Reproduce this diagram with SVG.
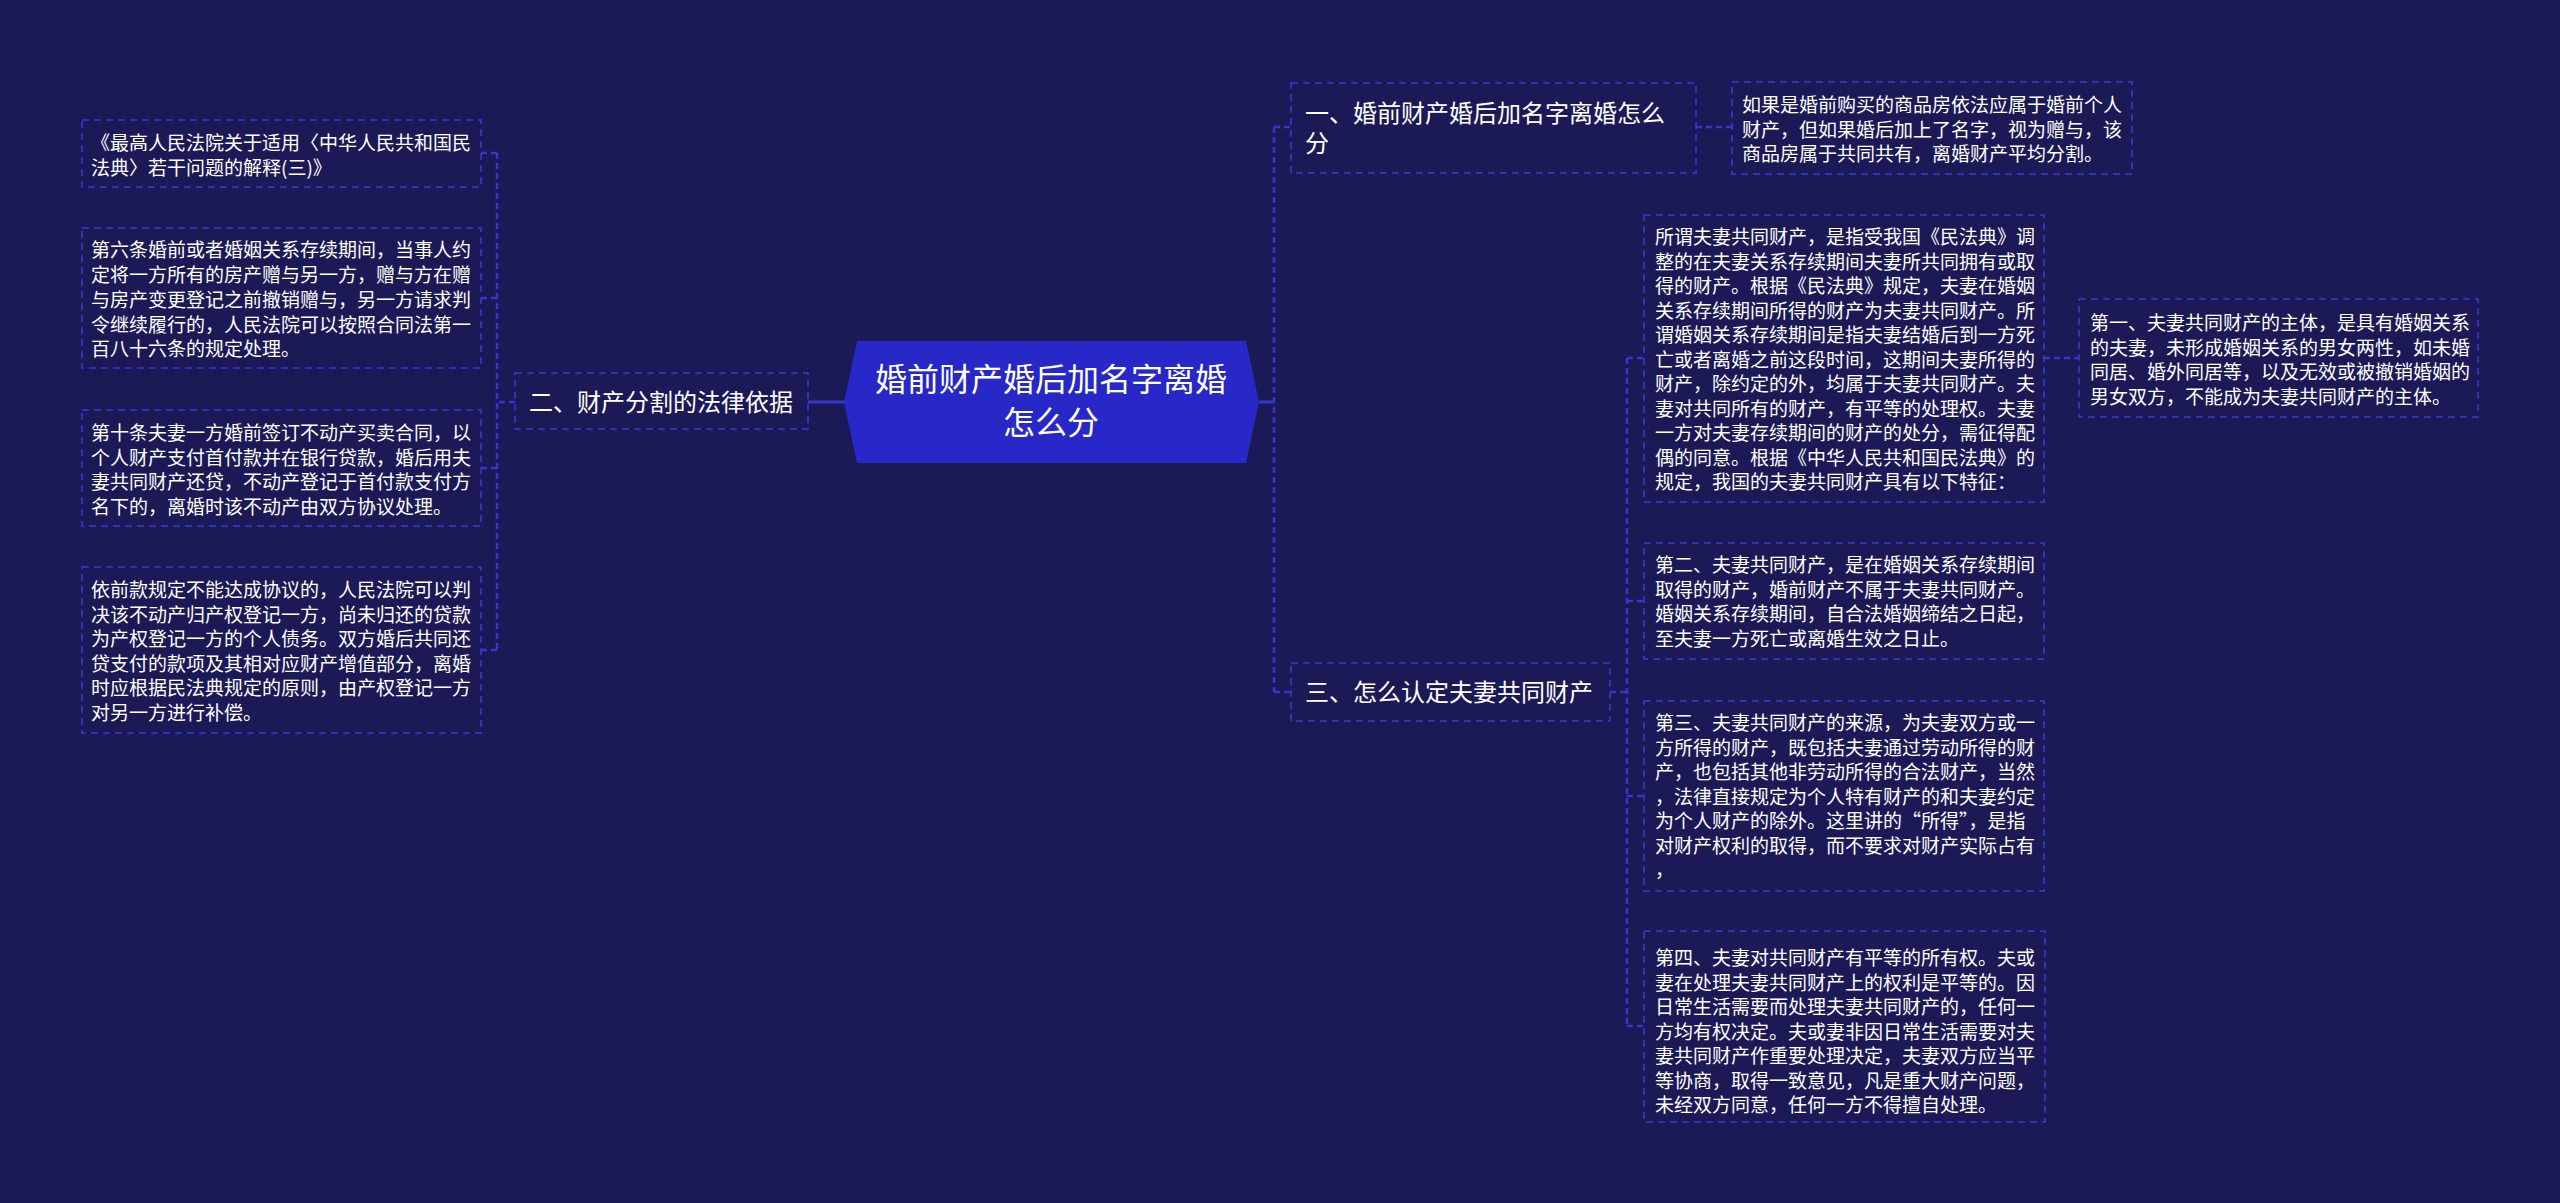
<svg xmlns="http://www.w3.org/2000/svg" width="2560" height="1203" viewBox="0 0 2560 1203">
<style>
.bg{fill:#1b1a56}
.box{fill:none;stroke:#3838d2;stroke-width:1.6;stroke-dasharray:7 5}
.con{fill:none;stroke:#3636cc;stroke-width:2.5;stroke-dasharray:6 4}
.solid{fill:none;stroke:#3636cc;stroke-width:3}
.t{font-family:"Noto Sans CJK SC","Noto Sans",sans-serif;fill:#ffffff}
.s19{font-size:19px}
.s24{font-size:24px}
.s32{font-size:32px}
.root{fill:#2828c8}
</style>
<rect class="bg" x="0" y="0" width="2560" height="1203"/>

<g id="connectors">
  <line class="solid" x1="808" y1="402" x2="846" y2="402"/>
  <path class="con" d="M515 402 H497 M497 153 V650 M497 153 H481 M497 298 H481 M497 468 H481 M497 650 H481"/>
  <line class="solid" x1="1256" y1="402" x2="1274" y2="402"/>
  <path class="con" d="M1274 127 V692 M1274 127 H1291 M1274 692 H1291"/>
  <line class="con" x1="1696" y1="127" x2="1732" y2="127"/>
  <path class="con" d="M1610 692 H1627 M1627 358 V1026 M1627 358 H1644 M1627 601 H1644 M1627 796 H1644 M1627 1026 H1644"/>
  <line class="con" x1="2044" y1="358" x2="2079" y2="358"/>
</g>

<g id="root">
  <polygon class="root" points="857,341 1246,341 1259,402 1246,463 857,463 844,402"/>
  <text class="t s32" x="1051" y="391" text-anchor="middle">婚前财产婚后加名字离婚</text>
  <text class="t s32" x="1051" y="434" text-anchor="middle">怎么分</text>
</g>

<g id="n2">
  <rect class="box" x="515" y="373" width="293" height="56"/>
  <text class="t s24" x="529" y="411">二、财产分割的法律依据</text>
</g>

<g id="l1">
  <rect class="box" x="82" y="120" width="399" height="67"/>
  <text class="t s19" x="91" y="150">《最高人民法院关于适用〈中华人民共和国民</text>
  <text class="t s19" x="91" y="174.5">法典〉若干问题的解释(三)》</text>
</g>

<g id="l2">
  <rect class="box" x="82" y="228" width="399" height="140"/>
  <text class="t s19" x="91" y="257">第六条婚前或者婚姻关系存续期间，当事人约</text>
  <text class="t s19" x="91" y="282">定将一方所有的房产赠与另一方，赠与方在赠</text>
  <text class="t s19" x="91" y="307">与房产变更登记之前撤销赠与，另一方请求判</text>
  <text class="t s19" x="91" y="332">令继续履行的，人民法院可以按照合同法第一</text>
  <text class="t s19" x="91" y="356">百八十六条的规定处理。</text>
</g>

<g id="l3">
  <rect class="box" x="82" y="410" width="399" height="116"/>
  <text class="t s19" x="91" y="440">第十条夫妻一方婚前签订不动产买卖合同，以</text>
  <text class="t s19" x="91" y="464.5">个人财产支付首付款并在银行贷款，婚后用夫</text>
  <text class="t s19" x="91" y="489">妻共同财产还贷，不动产登记于首付款支付方</text>
  <text class="t s19" x="91" y="513.5">名下的，离婚时该不动产由双方协议处理。</text>
</g>

<g id="l4">
  <rect class="box" x="82" y="567" width="399" height="166"/>
  <text class="t s19" x="91" y="597">依前款规定不能达成协议的，人民法院可以判</text>
  <text class="t s19" x="91" y="621.5">决该不动产归产权登记一方，尚未归还的贷款</text>
  <text class="t s19" x="91" y="646">为产权登记一方的个人债务。双方婚后共同还</text>
  <text class="t s19" x="91" y="670.5">贷支付的款项及其相对应财产增值部分，离婚</text>
  <text class="t s19" x="91" y="695">时应根据民法典规定的原则，由产权登记一方</text>
  <text class="t s19" x="91" y="719.5">对另一方进行补偿。</text>
</g>

<g id="n1">
  <rect class="box" x="1291" y="83" width="405" height="90"/>
  <text class="t s24" x="1305" y="122">一、婚前财产婚后加名字离婚怎么</text>
  <text class="t s24" x="1305" y="152">分</text>
</g>

<g id="n1a">
  <rect class="box" x="1732" y="82" width="400" height="92"/>
  <text class="t s19" x="1742" y="112">如果是婚前购买的商品房依法应属于婚前个人</text>
  <text class="t s19" x="1742" y="136.5">财产，但如果婚后加上了名字，视为赠与，该</text>
  <text class="t s19" x="1742" y="161">商品房属于共同共有，离婚财产平均分割。</text>
</g>

<g id="n3">
  <rect class="box" x="1291" y="663" width="319" height="58"/>
  <text class="t s24" x="1305" y="701">三、怎么认定夫妻共同财产</text>
</g>

<g id="n3a">
  <rect class="box" x="1644" y="215" width="400" height="287"/>
  <text class="t s19" x="1655" y="244">所谓夫妻共同财产，是指受我国《民法典》调</text>
  <text class="t s19" x="1655" y="268.5">整的在夫妻关系存续期间夫妻所共同拥有或取</text>
  <text class="t s19" x="1655" y="293">得的财产。根据《民法典》规定，夫妻在婚姻</text>
  <text class="t s19" x="1655" y="317.5">关系存续期间所得的财产为夫妻共同财产。所</text>
  <text class="t s19" x="1655" y="342">谓婚姻关系存续期间是指夫妻结婚后到一方死</text>
  <text class="t s19" x="1655" y="366.5">亡或者离婚之前这段时间，这期间夫妻所得的</text>
  <text class="t s19" x="1655" y="391">财产，除约定的外，均属于夫妻共同财产。夫</text>
  <text class="t s19" x="1655" y="415.5">妻对共同所有的财产，有平等的处理权。夫妻</text>
  <text class="t s19" x="1655" y="440">一方对夫妻存续期间的财产的处分，需征得配</text>
  <text class="t s19" x="1655" y="464.5">偶的同意。根据《中华人民共和国民法典》的</text>
  <text class="t s19" x="1655" y="489">规定，我国的夫妻共同财产具有以下特征：</text>
</g>

<g id="n3a1">
  <rect class="box" x="2079" y="299" width="399" height="118"/>
  <text class="t s19" x="2090" y="330">第一、夫妻共同财产的主体，是具有婚姻关系</text>
  <text class="t s19" x="2090" y="354.5">的夫妻，未形成婚姻关系的男女两性，如未婚</text>
  <text class="t s19" x="2090" y="379">同居、婚外同居等，以及无效或被撤销婚姻的</text>
  <text class="t s19" x="2090" y="403.5">男女双方，不能成为夫妻共同财产的主体。</text>
</g>

<g id="n3b">
  <rect class="box" x="1644" y="543" width="400" height="116"/>
  <text class="t s19" x="1655" y="572">第二、夫妻共同财产，是在婚姻关系存续期间</text>
  <text class="t s19" x="1655" y="596.5">取得的财产，婚前财产不属于夫妻共同财产。</text>
  <text class="t s19" x="1655" y="621">婚姻关系存续期间，自合法婚姻缔结之日起，</text>
  <text class="t s19" x="1655" y="645.5">至夫妻一方死亡或离婚生效之日止。</text>
</g>

<g id="n3c">
  <rect class="box" x="1644" y="701" width="400" height="190"/>
  <text class="t s19" x="1655" y="730">第三、夫妻共同财产的来源，为夫妻双方或一</text>
  <text class="t s19" x="1655" y="754.5">方所得的财产，既包括夫妻通过劳动所得的财</text>
  <text class="t s19" x="1655" y="779">产，也包括其他非劳动所得的合法财产，当然</text>
  <text class="t s19" x="1655" y="803.5">，法律直接规定为个人特有财产的和夫妻约定</text>
  <text class="t s19" x="1655" y="828">为个人财产的除外。这里讲的“所得”，是指</text>
  <text class="t s19" x="1655" y="852.5">对财产权利的取得，而不要求对财产实际占有</text>
  <text class="t s19" x="1655" y="877">，</text>
</g>

<g id="n3d">
  <rect class="box" x="1644" y="931" width="401" height="191"/>
  <text class="t s19" x="1655" y="965">第四、夫妻对共同财产有平等的所有权。夫或</text>
  <text class="t s19" x="1655" y="989.5">妻在处理夫妻共同财产上的权利是平等的。因</text>
  <text class="t s19" x="1655" y="1014">日常生活需要而处理夫妻共同财产的，任何一</text>
  <text class="t s19" x="1655" y="1038.5">方均有权决定。夫或妻非因日常生活需要对夫</text>
  <text class="t s19" x="1655" y="1063">妻共同财产作重要处理决定，夫妻双方应当平</text>
  <text class="t s19" x="1655" y="1087.5">等协商，取得一致意见，凡是重大财产问题，</text>
  <text class="t s19" x="1655" y="1112">未经双方同意，任何一方不得擅自处理。</text>
</g>
</svg>
